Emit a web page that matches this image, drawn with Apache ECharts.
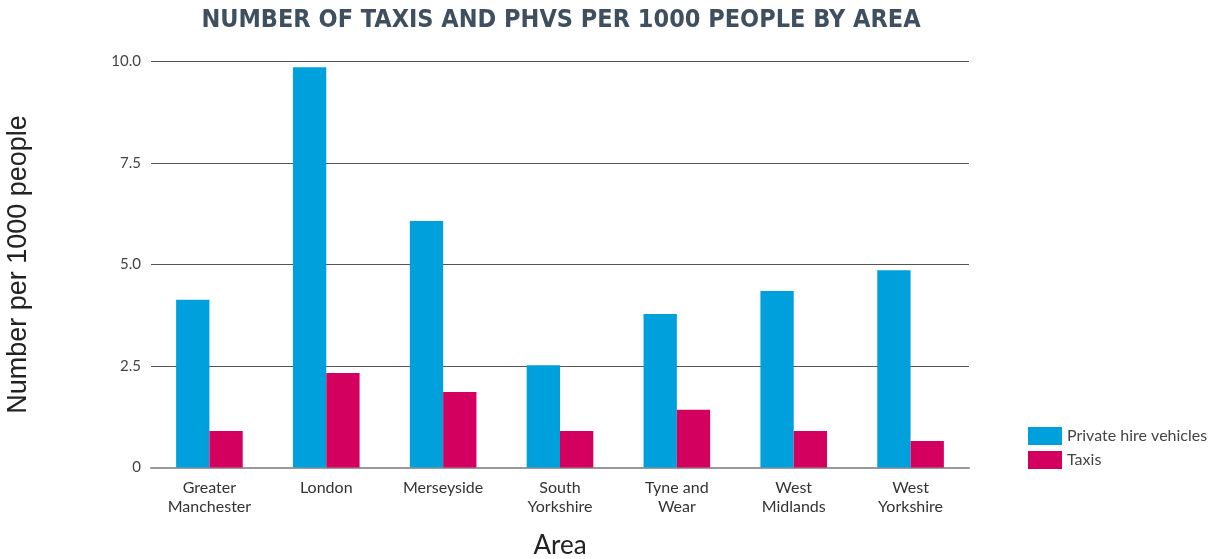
<!DOCTYPE html>
<html>
<head>
<meta charset="utf-8">
<script src="https://cdn.jsdelivr.net/npm/echarts@6/dist/echarts.min.js"></script>
<style>
  html, body { margin: 0; padding: 0; background: #fff; }
  #chart { width: 1210px; height: 559px; }
</style>
</head>
<body>
<div id="chart"></div>
<script>
// Licensed vehicles per 1000 residents, by metropolitan area
const areas = ['Greater\nManchester', 'London', 'Merseyside', 'South\nYorkshire', 'Tyne and\nWear', 'West\nMidlands', 'West\nYorkshire'];
const privateHire = [4.13, 9.86, 6.07, 2.52, 3.78, 4.35, 4.86];
const taxis = [0.90, 2.33, 1.86, 0.90, 1.42, 0.90, 0.65];
const yTicks = ['0', '2.5', '5.0', '7.5', '10.0'];

const chart = echarts.init(document.getElementById('chart'));
chart.setOption({
  animation: false,
  title: {
    text: 'NUMBER OF TAXIS AND PHVS PER 1000 PEOPLE BY AREA',
    left: 556,
    textAlign: 'center',
    top: 3,
    textStyle: {
      fontFamily: '"DejaVu Sans Condensed", "DejaVu Sans", sans-serif',
      fontWeight: 'bold',
      fontSize: 25,
      color: '#3e4f5f'
    }
  },
  legend: {
    orient: 'vertical',
    left: 1023,
    top: 422,
    itemWidth: 34,
    itemHeight: 18,
    itemGap: 6,
    icon: 'rect',
    textStyle: { fontFamily: 'Lato', fontSize: 16, color: '#444' },
    data: ['Private hire vehicles', 'Taxis']
  },
  grid: { left: 151, right: 241, top: 61.5, bottom: 91.5, outerBoundsMode: 'none', containLabel: false },
  xAxis: {
    type: 'category',
    data: areas,
    name: 'Area',
    nameLocation: 'middle',
    nameGap: 65,
    nameTextStyle: { fontFamily: 'Lato', fontSize: 26, color: '#222' },
    axisLine: { lineStyle: { color: '#999', width: 2 } },
    axisTick: { show: false },
    axisLabel: { fontFamily: 'Lato', fontSize: 16, color: '#333', lineHeight: 19, margin: 11 }
  },
  yAxis: {
    type: 'value',
    min: 0,
    max: 10,
    interval: 2.5,
    name: 'Number per 1000 people',
    nameLocation: 'middle',
    nameGap: 119,
    nameTextStyle: { fontFamily: 'Liberation Sans', fontSize: 27, color: '#222' },
    axisLine: { show: false },
    axisTick: { show: false },
    axisLabel: {
      fontFamily: 'Lato', fontSize: 15, color: '#444', margin: 10,
      formatter: (v) => yTicks[Math.round(v / 2.5)]
    },
    splitLine: { lineStyle: { color: '#555', width: 1.2 } }
  },
  series: [
    {
      name: 'Private hire vehicles',
      type: 'bar',
      data: privateHire,
      itemStyle: { color: '#00a0dc' },
      barGap: '0%',
      barCategoryGap: '43%'
    },
    {
      name: 'Taxis',
      type: 'bar',
      data: taxis,
      itemStyle: { color: '#d4005f' }
    }
  ]
});
</script>
</body>
</html>
